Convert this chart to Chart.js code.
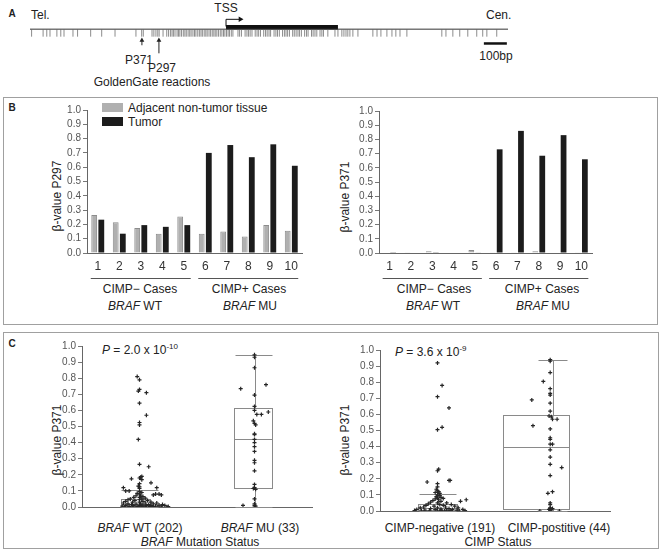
<!DOCTYPE html>
<html>
<head>
<meta charset="utf-8">
<script src="https://cdn.jsdelivr.net/npm/chart.js@4.4.0/dist/chart.umd.min.js"></script>
<style>
body { margin: 0; background: #fff; width: 661px; height: 558px; position: relative; overflow: hidden;
       font-family: "Liberation Sans", Arial, sans-serif; color: #222; }
canvas { position: absolute; }
.t { position: absolute; white-space: nowrap; font-size: 12px; line-height: 1; transform: translate(-50%, -50%); }
.l { position: absolute; white-space: nowrap; font-size: 12px; line-height: 1; transform: translateY(-50%); }
.yt { position: absolute; white-space: nowrap; font-size: 12px; line-height: 1; transform: translate(-50%, -50%) rotate(-90deg); }
.letter { position: absolute; font-weight: bold; font-size: 10px; transform: translate(-50%, -50%); }
.panel { position: absolute; border: 1px solid #a0a0a0; }
.key { position: absolute; width: 21px; height: 9px; }
sup { font-size: 8px; vertical-align: 5px; }
</style>
</head>
<body>

<!-- panel A labels -->
<div class="letter" style="left:12px;top:13px">A</div>
<div class="l" style="left:31px;top:15px">Tel.</div>
<div class="t" style="left:226px;top:8px">TSS</div>
<div class="l" style="left:486px;top:15px">Cen.</div>
<div class="t" style="left:139px;top:60px">P371</div>
<div class="t" style="left:162px;top:68px">P297</div>
<div class="t" style="left:152px;top:82px">GoldenGate reactions</div>
<div class="t" style="left:496px;top:56px">100bp</div>

<!-- panel B -->
<div class="panel" style="left:3px;top:97px;width:653px;height:226px"></div>
<div class="letter" style="left:12px;top:107px">B</div>
<div class="key" style="left:102px;top:103px;background:#b0b0b0"></div>
<div class="l" style="left:128px;top:108px">Adjacent non-tumor tissue</div>
<div class="key" style="left:102px;top:117px;background:#1c1c1c"></div>
<div class="l" style="left:128px;top:122px">Tumor</div>
<div class="yt" style="left:57px;top:196px">β-value P297</div>
<div class="yt" style="left:345px;top:197px">β-value P371</div>
<div class="t" style="left:140px;top:289px">CIMP− Cases</div>
<div class="t" style="left:249px;top:289px">CIMP+ Cases</div>
<div class="t" style="left:135px;top:306px"><i>BRAF</i> WT</div>
<div class="t" style="left:250px;top:306px"><i>BRAF</i> MU</div>
<div class="t" style="left:434px;top:289px">CIMP− Cases</div>
<div class="t" style="left:542px;top:289px">CIMP+ Cases</div>
<div class="t" style="left:433px;top:306px"><i>BRAF</i> WT</div>
<div class="t" style="left:543px;top:306px"><i>BRAF</i> MU</div>

<!-- panel C -->
<div class="panel" style="left:3px;top:332px;width:654px;height:215px"></div>
<div class="letter" style="left:12px;top:343px">C</div>
<div class="yt" style="left:57px;top:440px">β-value P371</div>
<div class="yt" style="left:345px;top:440px">β-value P371</div>
<div class="l" style="left:102px;top:349px"><i>P</i> = 2.0 x 10<sup>-10</sup></div>
<div class="l" style="left:395px;top:351px"><i>P</i> = 3.6 x 10<sup>-9</sup></div>
<div class="t" style="left:140px;top:528px"><i>BRAF</i> WT (202)</div>
<div class="t" style="left:260px;top:528px"><i>BRAF</i> MU (33)</div>
<div class="t" style="left:200px;top:542px"><i>BRAF</i> Mutation Status</div>
<div class="t" style="left:440px;top:528px">CIMP-negative (191)</div>
<div class="t" style="left:559px;top:528px">CIMP-postitive (44)</div>
<div class="t" style="left:498px;top:542px">CIMP Status</div>

<canvas id="mapA" width="661" height="95" style="left:0;top:0"></canvas>
<canvas id="barP297" width="270" height="213" style="left:45px;top:100px"></canvas>
<canvas id="barP371" width="270" height="213" style="left:335px;top:100px"></canvas>
<canvas id="boxBraf" width="275" height="213" style="left:45px;top:334px"></canvas>
<canvas id="boxCimp" width="283" height="211" style="left:335px;top:334px"></canvas>

<script>
// ---- panel A: promoter map (positions in bp) ----
const regionEnd = 2080;
const tssPos = 853;
const exonEnd = 1340;
const probeP371 = 487;
const probeP297 = 561;
const scaleBar = [1975, 2075];
const cpgSites = [7, 57, 73, 87, 117, 134, 148, 187, 207, 264, 312, 370, 461, 486, 493, 531, 539, 548, 556, 562, 579, 595,
  603, 611, 618, 624, 631, 640, 646, 652, 659, 667, 674, 680, 688, 695, 701, 709, 716, 722, 730, 737, 744, 750, 758,
  765, 771, 779, 786, 793, 800, 806, 813, 820, 828, 835, 842, 848, 855, 862, 868, 876, 883,
  905, 912, 920, 936, 944, 951, 958, 966, 980, 988, 995, 1003, 1017, 1025, 1032, 1040, 1047, 1062, 1070, 1077, 1085,
  1099, 1107, 1114, 1121, 1129, 1143, 1150, 1158, 1166, 1173, 1181, 1195, 1203, 1210, 1225, 1232, 1240, 1248, 1262,
  1270, 1277, 1296, 1327, 1340, 1357, 1366, 1375, 1383, 1392, 1405, 1427, 1492, 1510, 1527, 1553, 1575, 1592, 1610,
  1640, 1792, 1810, 1840, 1870, 1905, 1944, 1970, 1988, 2031];

// ---- panel B: paired samples ----
const cases = ['1', '2', '3', '4', '5', '6', '7', '8', '9', '10'];
const caseGroups = [[0, 4], [5, 9]];
const p297Adjacent = [0.265, 0.215, 0.175, 0.135, 0.255, 0.135, 0.15, 0.115, 0.195, 0.155];
const p297Tumor = [0.233, 0.135, 0.195, 0.183, 0.195, 0.70, 0.755, 0.67, 0.76, 0.61];
const p371Adjacent = [0, 0.005, 0.012, 0.003, 0.022, 0.005, 0.005, 0.012, 0, 0.005];
const p371Tumor = [0.005, 0, 0.005, 0, 0.003, 0.73, 0.86, 0.685, 0.83, 0.66];

// ---- panel C: box plots (category 1 / 2) ----
const brafQ1 = [0.005, 0.12];
const brafMedian = [0.02, 0.42];
const brafQ3 = [0.048, 0.615];
const brafLow = [0, 0];
const brafHigh = [0.107, 0.945];
const cimpQ1 = [0.005, 0.015];
const cimpMedian = [0.02, 0.40];
const cimpQ3 = [0.045, 0.595];
const cimpLow = [0, 0];
const cimpHigh = [0.107, 0.94];

const brafWtValues = [0.81, 0.79, 0.73, 0.72, 0.71, 0.645, 0.57, 0.525, 0.51, 0.42, 0.265, 0.25, 0.19, 0.185, 0.18,
  0.175, 0.17, 0.15, 0.145, 0.13, 0.125, 0.12, 0.12, 0.115,
  0.10, 0.10, 0.095, 0.09, 0.085, 0.08, 0.08, 0.08, 0.075, 0.075, 0.07, 0.07, 0.065, 0.06, 0.06, 0.055, 0.05, 0.05,
  0.045, 0.045, 0.04, 0.04, 0.035, 0.035, 0.03, 0.03, 0.03, 0.025, 0.025, 0.025, 0.02, 0.02, 0.02, 0.018, 0.015,
  0.015, 0.015, 0.012, 0.012, 0.01, 0.01, 0.01, 0.01, 0.008, 0.008, 0.006, 0.005, 0.005, 0.005, 0.004, 0.003, 0.003,
  0.002, 0.002, 0.001, 0, 0, 0, 0, 0];
const brafWtJitter = [-0.02, 0, 0, -0.01, 0.06, 0, 0.06, 0, 0, -0.01, 0, 0.08, 0.02, 0.01, 0,
  -0.07, 0.02, 0.1, 0, -0.01, 0, -0.14, 0.15, 0,
  -0.12, -0.09, 0, 0.02, -0.02, 0, 0.14, 0.17, 0.12, 0.19, 0.01, -0.03, 0.03, -0.05, 0, 0.05, -0.08, 0.02,
  -0.1, 0, 0.07, -0.04, -0.12, 0.03, 0.1, -0.06, 0, 0.15, -0.14, 0.05, -0.1, 0.01, 0.12, -0.03, 0.2,
  0.08, -0.07, 0.17, 0.03, -0.12, 0, 0.1, 0.22, -0.05, 0.06, 0.14, -0.15, 0.02, 0.19, -0.09, 0.09, 0.25,
  -0.02, 0.12, 0.05, -0.13, 0, 0.16, 0.24, -0.06];
const brafMuValues = [0.945, 0.93, 0.865, 0.76, 0.735, 0.695, 0.625, 0.6, 0.59, 0.575, 0.575, 0.535, 0.52, 0.51,
  0.455, 0.45, 0.42, 0.4, 0.375, 0.345, 0.29, 0.275, 0.225, 0.14, 0.12, 0.115, 0.11, 0.05, 0.02, 0.01, 0.01, 0.005, 0];
const brafMuJitter = [0, 0, 0, 0.1, -0.12, 0, 0, 0, 0.12, 0.02, 0.06, -0.01, 0, 0.01,
  0, 0, 0, 0, 0, 0, 0, 0, 0, 0, 0, -0.01, 0.01, 0, 0, -0.1, 0, 0.01, 0];
const cimpNegValues = [0.92, 0.78, 0.71, 0.64, 0.52, 0.505, 0.26, 0.25, 0.19, 0.19, 0.18, 0.17, 0.15, 0.135, 0.125,
  0.12, 0.115, 0.11,
  0.1, 0.095, 0.09, 0.085, 0.08, 0.078, 0.075, 0.07, 0.07, 0.065, 0.06, 0.06, 0.055, 0.05, 0.05, 0.045, 0.04, 0.04,
  0.035, 0.035, 0.03, 0.03, 0.025, 0.025, 0.02, 0.02, 0.02, 0.015, 0.015, 0.012, 0.01, 0.01, 0.01, 0.008, 0.006,
  0.005, 0.005, 0.004, 0.003, 0.002, 0.002, 0.001, 0, 0, 0, 0];
const cimpNegJitter = [0, 0.04, 0, 0.1, 0.04, 0, 0.01, 0, 0.1, 0.11, -0.09, 0, 0, -0.01, 0,
  0.01, -0.02, 0.02,
  0, 0.02, -0.01, 0.03, 0, 0.05, -0.02, 0.25, 0.01, -0.04, 0.03, 0.2, -0.06, 0, 0.08, -0.08, 0.02, 0.12,
  -0.1, 0.05, -0.03, 0.15, -0.12, 0.07, 0, 0.18, -0.15, 0.1, -0.06, 0.03, 0.22, -0.18, 0.13, -0.02, 0.08,
  -0.11, 0.17, 0.03, -0.2, 0.11, 0.24, -0.07, 0, 0.19, -0.14, 0.06];
const cimpPosValues = [0.94, 0.93, 0.86, 0.805, 0.76, 0.73, 0.72, 0.69, 0.67, 0.62, 0.59, 0.585, 0.57, 0.57, 0.53,
  0.51, 0.455, 0.445, 0.415, 0.415, 0.38, 0.335, 0.29, 0.27, 0.22, 0.12, 0.11, 0.05, 0.04, 0.02, 0.015, 0.015,
  0.01, 0.01, 0.005, 0, 0, 0];
const cimpPosJitter = [-0.02, -0.02, -0.02, -0.08, -0.02, -0.02, -0.02, -0.18, -0.02, -0.02, -0.03, -0.01, 0, 0.04,
  -0.17, -0.02, -0.02, -0.02, -0.02, 0, -0.02, -0.02, -0.02, 0.08, -0.02, 0, -0.04, -0.02, -0.02, -0.02, -0.02, 0,
  -0.03, -0.01, -0.02, -0.11, 0.06, -0.02];

Chart.defaults.font.family = '"Liberation Sans", Arial, sans-serif';
Chart.defaults.color = '#444';

function yAxis(width) {
  return {
    min: 0, max: 1,
    ticks: { stepSize: 0.1, autoSkip: false, font: { size: 10 }, color: '#555', padding: 2, callback: v => v.toFixed(1) },
    grid: { drawOnChartArea: false, drawTicks: true, tickLength: 4, color: '#777' },
    border: { color: '#666' },
    afterFit: s => { s.width = width; }
  };
}

// underline each group of cases below the tick labels
const groupLines = {
  id: 'groupLines',
  afterDraw(chart) {
    const xs = chart.scales.x, ctx = chart.ctx;
    const y = Math.round(chart.chartArea.bottom + 25) + 0.5;
    ctx.save();
    ctx.strokeStyle = '#555';
    ctx.lineWidth = 1;
    caseGroups.forEach(g => {
      ctx.beginPath();
      ctx.moveTo(xs.getPixelForValue(g[0]) - 7, y);
      ctx.lineTo(xs.getPixelForValue(g[1]) + 7, y);
      ctx.stroke();
    });
    ctx.restore();
  }
};

function barChart(id, adjacent, tumor, top, yWidth) {
  new Chart(document.getElementById(id), {
    type: 'bar',
    data: {
      labels: cases,
      datasets: [
        { label: 'Adjacent non-tumor tissue', data: adjacent, backgroundColor: '#b0b0b0', borderColor: '#8c8c8c', borderWidth: 1 },
        { label: 'Tumor', data: tumor, backgroundColor: '#1c1c1c', borderColor: '#000', borderWidth: 0 }
      ]
    },
    options: {
      responsive: false, animation: false, events: [],
      layout: { padding: { top: top, right: 13, left: 0, bottom: 0 } },
      categoryPercentage: 0.66, barPercentage: 0.82,
      plugins: { legend: { display: false }, tooltip: { enabled: false } },
      scales: {
        x: {
          grid: { display: false, drawTicks: false },
          border: { color: '#666' },
          ticks: { font: { size: 12 }, color: '#333', padding: 6 },
          afterFit: s => { s.height = 60; }
        },
        y: yAxis(yWidth)
      }
    },
    plugins: [groupLines]
  });
}

barChart('barP297', p297Adjacent, p297Tumor, 10, 42);
barChart('barP371', p371Adjacent, p371Tumor, 11, 44);

// box, median, whiskers drawn behind the points through the chart scales
const boxPlot = {
  id: 'boxPlot',
  beforeDatasetsDraw(chart, args, o) {
    const xs = chart.scales.x, ys = chart.scales.y, ctx = chart.ctx;
    ctx.save();
    ctx.strokeStyle = '#8a8a8a';
    ctx.lineWidth = 1;
    o.q1.forEach((q1, i) => {
      const c = i + 1, w = o.shape[i];
      const px = v => Math.round(xs.getPixelForValue(v)) + 0.5;
      const py = v => Math.round(ys.getPixelForValue(v)) + 0.5;
      const l = px(c + w[0]), r = px(c + w[1]), cl = px(c + w[2]), cr = px(c + w[3]), wx = px(c);
      const y1 = py(q1), y3 = py(o.q3[i]), ym = py(o.med[i]), yh = py(o.hi[i]), yl = py(o.lo[i]);
      ctx.strokeRect(l, y3, r - l, y1 - y3);
      ctx.beginPath();
      ctx.moveTo(l, ym); ctx.lineTo(r, ym);
      ctx.moveTo(wx, y3); ctx.lineTo(wx, yh);
      ctx.moveTo(wx, y1); ctx.lineTo(wx, yl);
      ctx.moveTo(cl, yh); ctx.lineTo(cr, yh);
      ctx.moveTo(cl, yl); ctx.lineTo(cr, yl);
      ctx.stroke();
    });
    ctx.restore();
  }
};

function points(values, jitter, cat) {
  return values.map((v, i) => ({ x: cat + jitter[i], y: v }));
}

function boxChart(id, groups, stats, top, yWidth, xHeight) {
  new Chart(document.getElementById(id), {
    type: 'scatter',
    data: {
      datasets: groups.map((g, i) => ({
        data: points(g[0], g[1], i + 1),
        pointStyle: 'cross', pointRadius: 2, borderWidth: 1.2,
        borderColor: '#262626', backgroundColor: '#262626'
      }))
    },
    options: {
      responsive: false, animation: false, events: [],
      layout: { padding: { top: top, right: 8, left: 0, bottom: 0 } },
      plugins: { legend: { display: false }, tooltip: { enabled: false }, boxPlot: stats },
      scales: {
        x: {
          type: 'linear', min: 0.5, max: 2.5,
          grid: { display: false, drawTicks: false },
          border: { color: '#666' },
          ticks: { display: false },
          afterFit: s => { s.height = xHeight; }
        },
        y: yAxis(yWidth)
      }
    },
    plugins: [boxPlot]
  });
}

boxChart('boxBraf', [[brafWtValues, brafWtJitter], [brafMuValues, brafMuJitter]], {
  q1: brafQ1, med: brafMedian, q3: brafQ3, lo: brafLow, hi: brafHigh,
  shape: [[-0.16, 0.09, -0.16, 0.16], [-0.18, 0.15, -0.17, 0.15]]
}, 12, 37, 40);

boxChart('boxCimp', [[cimpNegValues, cimpNegJitter], [cimpPosValues, cimpPosJitter]], {
  q1: cimpQ1, med: cimpMedian, q3: cimpQ3, lo: cimpLow, hi: cimpHigh,
  shape: [[-0.17, 0.17, -0.16, 0.16], [-0.43, 0.14, -0.13, 0.13]]
}, 16, 45, 34);

// promoter map: scatter chart with hidden scales, x in bp, y in px rows
new Chart(document.getElementById('mapA'), {
  type: 'scatter',
  data: {
    datasets: [
      { data: [{ x: 0, y: 27 }, { x: regionEnd, y: 27 }], showLine: true, borderColor: '#333', borderWidth: 1, pointRadius: 0 },
      { data: cpgSites.map(x => ({ x: x, y: 31.5 })), pointStyle: 'line', pointRotation: 90, pointRadius: 3.5,
        borderColor: '#8c8c8c', borderWidth: 1 },
      { data: [{ x: tssPos, y: 24.8 }, { x: exonEnd, y: 24.8 }], showLine: true, borderColor: '#111', borderWidth: 4.5, pointRadius: 0 },
      { data: [{ x: tssPos, y: 24 }, { x: tssPos, y: 16 }, { x: tssPos + 62, y: 16 }], showLine: true,
        borderColor: '#111', borderWidth: 1, pointRadius: 0 },
      { data: [{ x: tssPos + 62, y: 16 }], pointStyle: 'triangle', pointRotation: 90, pointRadius: 3.2,
        backgroundColor: '#111', borderColor: '#111', borderWidth: 0 },
      { data: [{ x: probeP371, y: 45 }, { x: probeP371, y: 40 }], showLine: true, borderColor: '#222', borderWidth: 1, pointRadius: 0 },
      { data: [{ x: probeP297, y: 54 }, { x: probeP297, y: 40 }], showLine: true, borderColor: '#222', borderWidth: 1, pointRadius: 0 },
      { data: [{ x: probeP371, y: 39.5 }, { x: probeP297, y: 39.5 }], pointStyle: 'triangle', pointRadius: 2.8,
        backgroundColor: '#222', borderColor: '#222', borderWidth: 0 },
      { data: [{ x: scaleBar[0], y: 43 }, { x: scaleBar[1], y: 43 }], showLine: true, borderColor: '#111', borderWidth: 2.5, pointRadius: 0 }
    ]
  },
  options: {
    responsive: false, animation: false, events: [],
    layout: { padding: { left: 30, right: 153, top: 0, bottom: 0 } },
    plugins: { legend: { display: false }, tooltip: { enabled: false } },
    scales: {
      x: { type: 'linear', min: 0, max: regionEnd, display: false },
      y: { min: 0, max: 95, reverse: true, display: false }
    },
    elements: { line: { tension: 0 } },
    clip: false
  }
});
</script>
</body>
</html>
